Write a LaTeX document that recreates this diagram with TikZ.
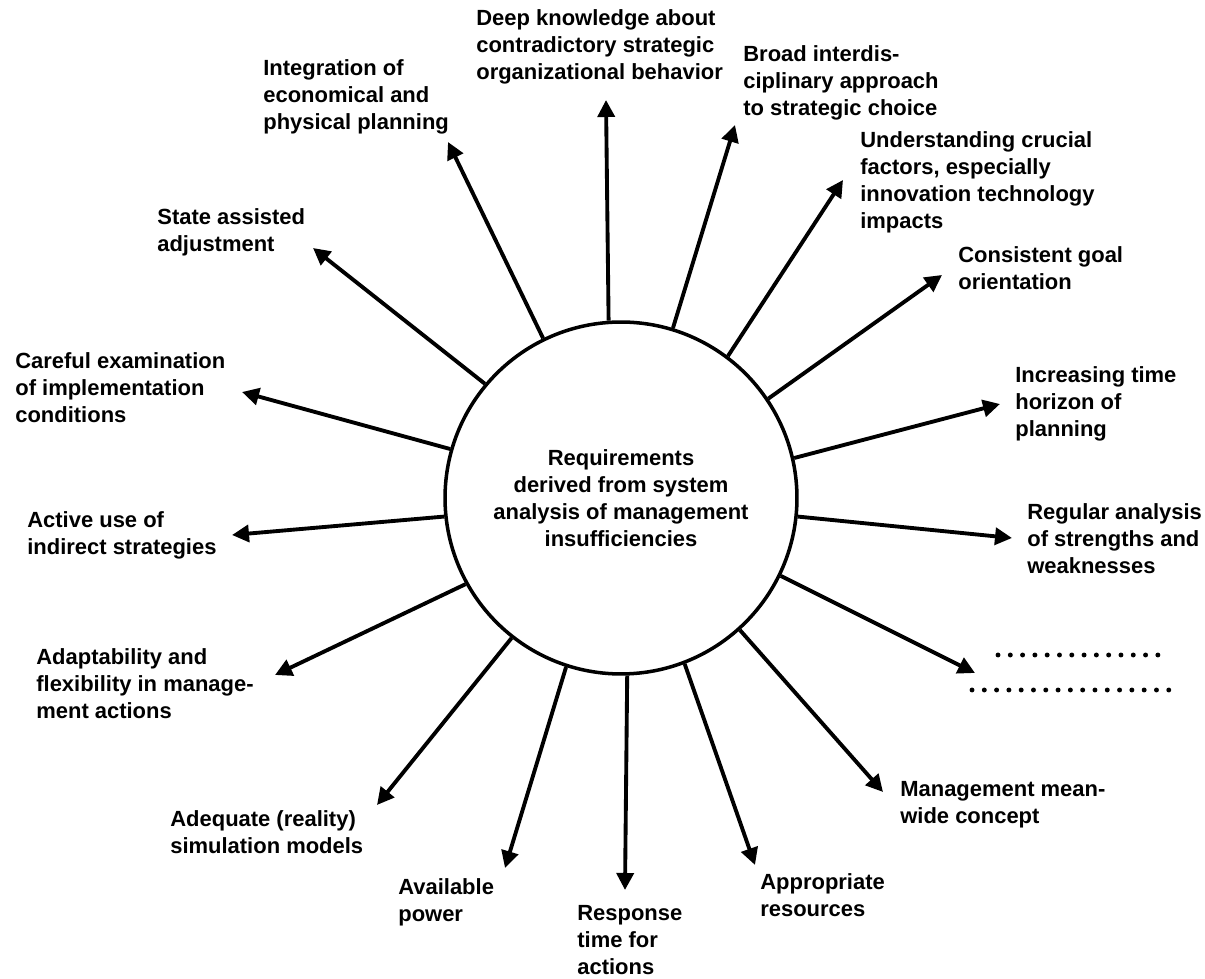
\documentclass[tikz,border=0pt]{standalone}
\usepackage{fontspec}
\setmainfont{Liberation Sans}
\usetikzlibrary{arrows.meta}
\tikzset{
  spoke/.style={line width=2.2pt,-{Triangle[length=0.34cm,width=0.34cm]}},
  lbl/.style={anchor=base west,align=left,inner sep=0pt,font=\fontsize{12.5}{15.4}\selectfont\bfseries},
  dotrow/.style={line width=2.8pt,line cap=round,dash pattern=on 0pt off 0.246cm}
}

\begin{document}
\begin{tikzpicture}[x=0.02cm,y=-0.02cm]
  \useasboundingbox (0,0) rectangle (1205,979);
  \node[circle,draw,line width=2pt,minimum size=7.04cm,align=center,
        font=\fontsize{12.5}{15.4}\selectfont\bfseries] (hub) at (621,498)
        {Requirements\\derived from system\\analysis of management\\insufficiencies};

  % labels round the circle (placed by the baseline of their last line)
  \node[lbl] (deep) at (476,80) {Deep knowledge about\\contradictory strategic\\organizational behavior};
  \node[lbl] (broad) at (743,116) {Broad interdis-\\ciplinary approach\\to strategic choice};
  \node[lbl] (crucial) at (860,229) {Understanding crucial\\factors, especially\\innovation technology\\impacts};
  \node[lbl] (goal) at (958,290) {Consistent goal\\orientation};
  \node[lbl] (horizon) at (1015,437) {Increasing time\\horizon of\\planning};
  \node[lbl] (regular) at (1027,574) {Regular analysis\\of strengths and\\weaknesses};
  \node[lbl] (meanwide) at (900,824) {Management mean-\\wide concept};
  \node[lbl] (resources) at (760,917) {Appropriate\\resources};
  \node[lbl] (response) at (577,975) {Response\\time for\\actions};
  \node[lbl] (power) at (398,922) {Available\\power};
  \node[lbl] (simul) at (170,854) {Adequate (reality)\\simulation models};
  \node[lbl] (adapt) at (36,719) {Adaptability and\\flexibility in manage-\\ment actions};
  \node[lbl] (indirect) at (27,555) {Active use of\\indirect strategies};
  \node[lbl] (careful) at (15,423) {Careful examination\\of implementation\\conditions};
  \node[lbl] (stateadj) at (157,252) {State assisted\\adjustment};
  \node[lbl] (integr) at (263,130) {Integration of\\economical and\\physical planning};

  % open items
  \draw[dotrow] (998,655) -- (1170,655);
  \draw[dotrow] (972,690) -- (1170,690);

  % arrow tips
  \coordinate (tDeep) at (606,100);
  \coordinate (tBroad) at (735,125);
  \coordinate (tCrucial) at (843,180);
  \coordinate (tGoal) at (942,275);
  \coordinate (tHorizon) at (1000,404);
  \coordinate (tRegular) at (1012,538);
  \coordinate (tDots) at (975,673);
  \coordinate (tMeanwide) at (883,792);
  \coordinate (tResources) at (755,865);
  \coordinate (tResponse) at (625,890);
  \coordinate (tPower) at (505,868);
  \coordinate (tSimul) at (377,805);
  \coordinate (tAdapt) at (275,675);
  \coordinate (tIndirect) at (232,535);
  \coordinate (tCareful) at (242,392);
  \coordinate (tState) at (313,248);
  \coordinate (tIntegr) at (448,142);

  \draw[spoke] (hub.94.9) -- (tDeep);
  \draw[spoke] (hub.73.1) -- (tBroad);
  \draw[spoke] (hub.53.8) -- (tCrucial);
  \draw[spoke] (hub.34.5) -- (tGoal);
  \draw[spoke] (hub.13.3) -- (tHorizon);
  \draw[spoke] (hub.-6.4) -- (tRegular);
  \draw[spoke] (hub.-26.4) -- (tDots);
  \draw[spoke] (hub.-48) -- (tMeanwide);
  \draw[spoke] (hub.-69.6) -- (tResources);
  \draw[spoke] (hub.-88.7) -- (tResponse);
  \draw[spoke] (hub.-108.3) -- (tPower);
  \draw[spoke] (hub.-128.6) -- (tSimul);
  \draw[spoke] (hub.-151.7) -- (tAdapt);
  \draw[spoke] (hub.186.1) -- (tIndirect);
  \draw[spoke] (hub.164.3) -- (tCareful);
  \draw[spoke] (hub.140.2) -- (tState);
  \draw[spoke] (hub.116.1) -- (tIntegr);
\end{tikzpicture}
\end{document}
